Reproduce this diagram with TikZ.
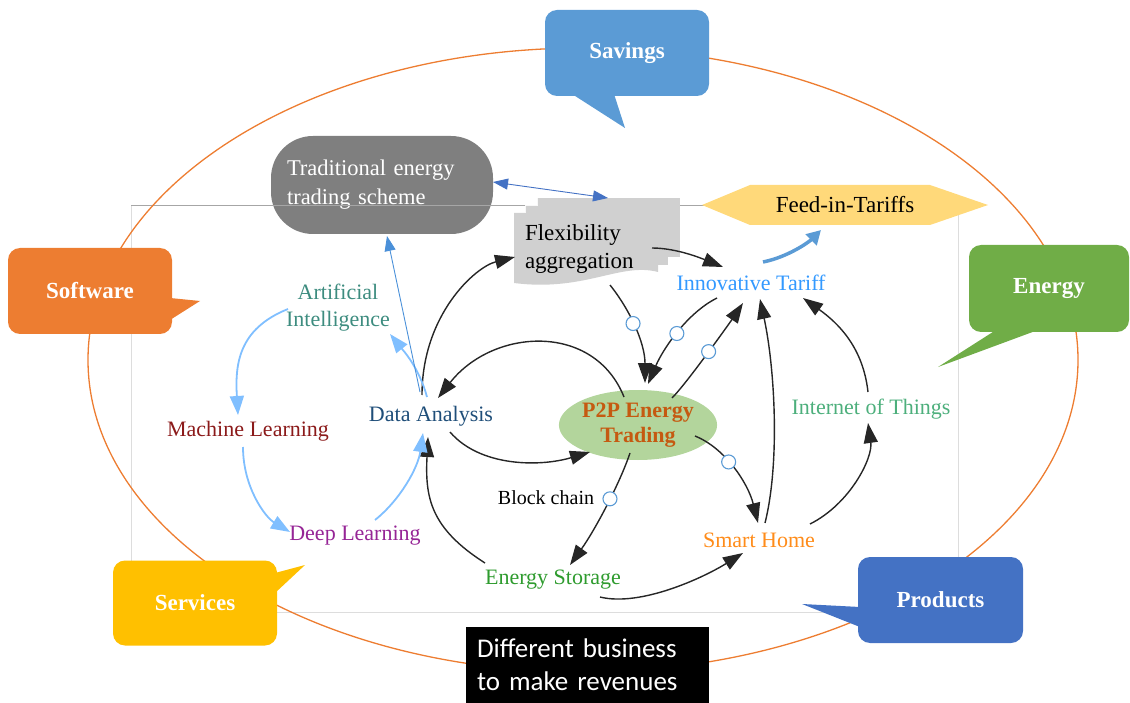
\documentclass[tikz,border=0pt]{standalone}
\usepackage{fontspec}
\setmainfont{Liberation Serif}
\newfontfamily\calfont{Carlito}
\usetikzlibrary{arrows.meta,shapes.geometric}
\definecolor{cSav}{HTML}{5B9BD5}
\definecolor{cSoft}{HTML}{ED7D31}
\definecolor{cServ}{HTML}{FFC000}
\definecolor{cEner}{HTML}{70AD47}
\definecolor{cProd}{HTML}{4472C4}
\definecolor{cTrad}{HTML}{7F7F7F}
\definecolor{cFlex}{HTML}{D0D0D0}
\definecolor{cFit}{HTML}{FFD97A}
\definecolor{cP2Pf}{HTML}{B3D59C}
\definecolor{cP2Pt}{HTML}{C55A11}
\definecolor{cDA}{HTML}{1F4E79}
\definecolor{cAI}{HTML}{3D8C7F}
\definecolor{cML}{HTML}{8B1A1A}
\definecolor{cDL}{HTML}{962596}
\definecolor{cIT}{HTML}{3399FF}
\definecolor{cIoT}{HTML}{4DAF7C}
\definecolor{cSH}{HTML}{FF8C1A}
\definecolor{cES}{HTML}{2E9B2E}
\definecolor{cLB}{HTML}{80BFFF}
\definecolor{cTB}{HTML}{4A90D9}
\definecolor{cCirc}{HTML}{5B9BD5}
\definecolor{cFrame}{HTML}{DDDDDD}
\tikzset{
  lbl/.style={inner sep=1pt, font=\fontsize{22}{27}\selectfont},
  blk/.style={draw=black!85, line width=1.4pt, -{Triangle[length=20pt,width=14pt]}},
  lblue/.style={draw=cLB, line width=1.8pt, -{Triangle[length=19pt,width=14pt]}},
  tblue/.style={draw=cTB, line width=0.9pt, -{Triangle[length=15pt,width=11pt]}},
  circ/.style={circle, draw=cCirc, fill=white, line width=1.1pt, minimum size=14pt, inner sep=0pt},
  callout/.style={rounded corners=12pt, minimum width=164pt, minimum height=86pt, text=white, inner sep=0pt, font=\bfseries\fontsize{23}{27}\selectfont},
}
\begin{document}
\begin{tikzpicture}[x=1pt,y=-1pt]
\useasboundingbox (0,0) rectangle (1130,703);
% traditional scheme box
\node[fill=cTrad, rounded corners=42pt, minimum width=222pt, minimum height=98pt, text width=190pt, align=left, text=white, inner sep=0pt, font=\fontsize{22.5}{29}\selectfont] (trad) at (382,185) {Traditional energy\\trading scheme};
% frame
\draw[cFrame, line width=0.6pt] (131,205) rectangle (958,612);
\draw[black!35, line width=0.6pt] (131,205) -- (958,205);
% outer ellipse
\draw[cSoft, line width=1.3pt] (583,360) ellipse [x radius=495, y radius=312];
% flexibility aggregation (stacked documents)
\fill[cFlex] (537,198) rectangle (680,257);
\fill[cFlex] (525,205) rectangle (668,265);
\fill[cFlex] (514,213) -- (658,213) -- (658,272) .. controls (620,262) and (585,292) .. (514,283) -- cycle;
\draw[white!85!cFlex, line width=0.6pt] (525,213) -- (525,205) -- (537,205) -- (537,198);
\node[minimum width=144pt, minimum height=72pt, inner xsep=11pt, inner ysep=0pt, text width=122pt, align=left, font=\fontsize{23}{28}\selectfont] (flex) at (586,249) {Flexibility\\aggregation};
% feed-in tariffs
\fill[cFit] (702,205) -- (750,185) -- (930,185) -- (988,205) -- (930,225) -- (750,225) -- cycle;
\node[lbl, font=\fontsize{23}{27}\selectfont] (fit) at (845,205) {Feed-in-Tariffs};
% P2P
\node[ellipse, fill=cP2Pf, minimum width=158pt, minimum height=70pt, inner sep=0pt, align=center, text=cP2Pt, font=\bfseries\fontsize{22}{25}\selectfont] (p2p) at (638,425) {P2P Energy\\Trading};
% labels
\node[lbl, text=cDA] (da) at (431,416) {Data Analysis};
\node[lbl, text=cAI, align=center] (ai) at (338,308) {Artificial\\Intelligence};
\node[lbl, text=cML] (ml) at (248,431) {Machine Learning};
\node[lbl, text=cDL] (dl) at (355,536) {Deep Learning};
\node[lbl, text=cIT] (it) at (751,283) {Innovative Tariff};
\node[lbl, text=cIoT] (iot) at (871,409) {Internet of Things};
\node[lbl, text=cSH] (sh) at (759,540) {Smart Home};
\node[lbl, text=cES] (es) at (553,580) {Energy Storage};
\node[lbl, font=\fontsize{20}{24}\selectfont] (bc) at (546,498) {Block chain};
% callouts
\fill[cSav] (572,94) -- (625,128) -- (614,94) -- cycle;
\node[callout, fill=cSav] (sav) at (627,53) {Savings};
\fill[cSoft] (170,298) -- (200,301) -- (170,320) -- cycle;
\node[callout, fill=cSoft] (soft) at (90,291) {Software};
\fill[cServ] (275,573) -- (305,565) -- (275,593) -- cycle;
\node[callout, fill=cServ, minimum height=85pt] (serv) at (195,603) {Services};
\fill[cEner] (996,330) -- (938,367) -- (1038,330) -- cycle;
\node[callout, fill=cEner, minimum width=160pt, minimum height=87pt] (ener) at (1049,288.5) {Energy};
\fill[cProd] (860,607) -- (802,604) -- (860,627) -- cycle;
\node[callout, fill=cProd, minimum width=165pt] (prod) at (940.5,600) {Products};
% revenues box
\node[fill=black, text=white, minimum width=243pt, minimum height=76pt, inner xsep=11pt, inner ysep=0pt, text width=221pt, align=left, font=\calfont\fontsize{27}{33}\selectfont] (rev) at (587.5,665) {Different business\\to make revenues};
% black connectors
\draw[blk] ([xshift=-9pt,yshift=21pt]da.center) .. controls +(0,-80) and +(-40,10) .. ([xshift=-71pt,yshift=-8pt]flex.center);
\draw[blk] ([xshift=66pt,yshift=1pt]flex.center) .. controls +(25,0) and +(-20,-8) .. ([xshift=-28pt,yshift=16pt]it.center);
\draw[blk] ([xshift=24pt,yshift=-36pt]flex.center) .. controls +(20,25) and +(0,-40) .. ([xshift=7pt,yshift=42pt]p2p.center) node[circ, pos=0.45] {};
\draw[blk] ([xshift=-34pt,yshift=-15pt]it.center) .. controls +(-30,15) and +(15,-35) .. ([xshift=10pt,yshift=41pt]p2p.center) node[circ, pos=0.5] {};
\draw[blk] ([xshift=34pt,yshift=27pt]p2p.center) .. controls +(15,-15) and +(-12,18) .. ([xshift=-8pt,yshift=-20pt]it.center) node[circ, pos=0.5] {};
\draw[blk] ([xshift=6pt,yshift=17pt]sh.center) .. controls +(15,-60) and +(15,70) .. ([xshift=9pt,yshift=-16pt]it.center);
\draw[blk] ([xshift=-3pt,yshift=17pt]iot.center) .. controls +(-5,-45) and +(35,25) .. ([xshift=52pt,yshift=-15pt]it.center);
\draw[blk] ([xshift=51pt,yshift=16pt]sh.center) .. controls +(40,-20) and +(5,35) .. ([xshift=-3pt,yshift=-14pt]iot.center);
\draw[blk] ([xshift=57pt,yshift=-11pt]p2p.center) .. controls +(30,12) and +(-10,-40) .. ([xshift=-1pt,yshift=17pt]sh.center) node[circ, pos=0.42] {};
\draw[blk] ([xshift=47pt,yshift=-17pt]es.center) .. controls +(40,10) and +(-40,25) .. ([xshift=-16pt,yshift=-13pt]sh.center);
\draw[blk] ([xshift=-8pt,yshift=-28pt]p2p.center) .. controls +(-10,30) and +(25,-35) .. ([xshift=17pt,yshift=15pt]es.center) node[circ, pos=0.43] {};
\draw[blk] ([xshift=-68pt,yshift=17pt]es.center) .. controls +(-55,-35) and +(-3,60) .. ([xshift=-3pt,yshift=-21pt]da.center);
\draw[blk] ([xshift=-14pt,yshift=28pt]p2p.center) .. controls +(-30,-75) and +(55,-70) .. ([xshift=7pt,yshift=18pt]da.center);
\draw[blk] ([xshift=19pt,yshift=-16pt]da.center) .. controls +(30,35) and +(-50,15) .. ([xshift=-48pt,yshift=-27pt]p2p.center);
% light blue connectors
\draw[lblue] ([xshift=-50pt,yshift=-1pt]ai.center) .. controls +(-50,20) and +(-3,-50) .. ([xshift=-10pt,yshift=16pt]ml.center);
\draw[lblue] ([xshift=-5pt,yshift=-16pt]ml.center) .. controls +(0,40) and +(-25,-15) .. ([xshift=-65pt,yshift=4pt]dl.center);
\draw[lblue] ([xshift=20pt,yshift=16pt]dl.center) .. controls +(25,-20) and +(-5,35) .. ([xshift=-8pt,yshift=-17pt]da.center);
\draw[lblue] ([xshift=-4pt,yshift=19pt]da.center) .. controls +(-8,-30) and +(12,15) .. ([xshift=52pt,yshift=-26pt]ai.center);
% thin blue connectors
\draw[tblue] ([xshift=-11pt,yshift=24pt]da.center) -- ([xshift=5pt,yshift=-51pt]trad.center);
\draw[draw=cProd, line width=0.9pt, {Triangle[length=15pt,width=11pt]}-{Triangle[length=15pt,width=11pt]}] ([xshift=111pt,yshift=3pt]trad.center) -- ([xshift=22pt,yshift=51pt]flex.center);
% thick blue to feed-in tariffs
\draw[draw=cSav, line width=3.5pt, -{Triangle[length=14pt,width=15pt]}] ([xshift=12pt,yshift=21pt]it.center) .. controls +(25,-5) and +(-12,12) .. ([xshift=-24pt,yshift=-25pt]fit.center);
\end{tikzpicture}
\end{document}
